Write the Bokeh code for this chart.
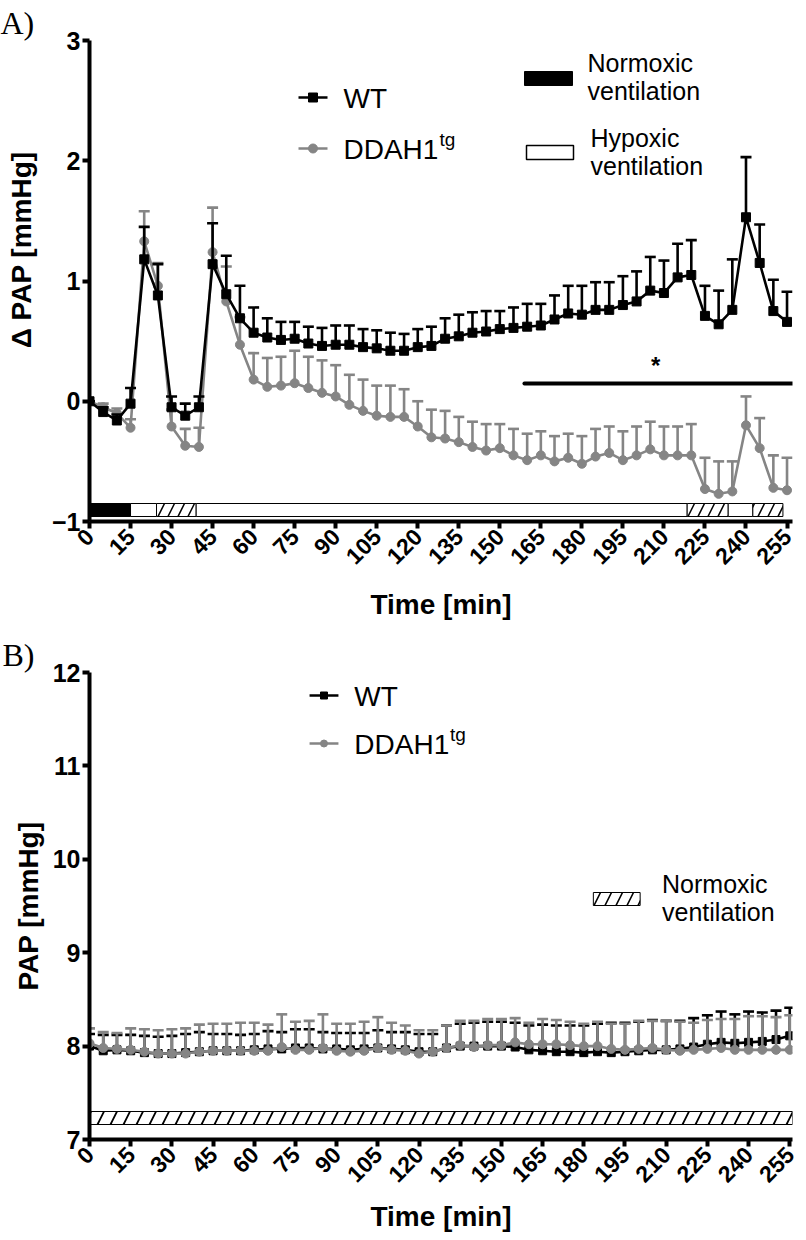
import math
from bokeh.plotting import figure
from bokeh.models import Range1d, Label, FixedTicker
from bokeh.layouts import column
from bokeh.embed import file_html
from bokeh.resources import INLINE

# ---------------- data ----------------
time_min = list(range(0, 256, 5))
x_ticks = list(range(0, 256, 15))

# Panel A: change in PAP [mmHg] (mean and top of upper error bar)
wt_a = [0.00, -0.09, -0.16, -0.02, 1.18, 0.88, -0.05, -0.12, -0.05, 1.14,
        0.89, 0.69, 0.57, 0.53, 0.51, 0.52, 0.48, 0.46, 0.47, 0.47,
        0.45, 0.44, 0.42, 0.42, 0.45, 0.46, 0.52, 0.54, 0.57, 0.58,
        0.60, 0.61, 0.62, 0.63, 0.68, 0.73, 0.72, 0.76, 0.76, 0.80,
        0.83, 0.92, 0.90, 1.03, 1.05, 0.71, 0.64, 0.76, 1.53, 1.15,
        0.75, 0.66]
wt_a_upper = [0.00, -0.05, -0.11, 0.11, 1.45, 1.14, 0.04, -0.02, 0.04, 1.48,
              1.21, 0.96, 0.78, 0.69, 0.66, 0.66, 0.62, 0.61, 0.63, 0.63,
              0.60, 0.59, 0.57, 0.56, 0.60, 0.62, 0.69, 0.72, 0.74, 0.75,
              0.75, 0.78, 0.81, 0.81, 0.88, 0.96, 0.96, 0.99, 0.99, 1.04,
              1.08, 1.20, 1.17, 1.31, 1.34, 0.96, 0.92, 1.18, 2.03, 1.47,
              1.01, 0.91]
ddah_a = [0.00, -0.05, -0.10, -0.22, 1.33, 0.96, -0.21, -0.37, -0.38, 1.24,
          0.83, 0.47, 0.18, 0.12, 0.13, 0.15, 0.11, 0.07, 0.04, -0.03,
          -0.08, -0.12, -0.13, -0.13, -0.21, -0.30, -0.31, -0.34, -0.38, -0.41,
          -0.39, -0.45, -0.49, -0.45, -0.50, -0.47, -0.52, -0.46, -0.43, -0.49,
          -0.45, -0.40, -0.45, -0.45, -0.45, -0.73, -0.77, -0.75, -0.20, -0.39,
          -0.72, -0.74]
ddah_a_upper = [0.00, -0.02, -0.06, -0.15, 1.58, 1.15, -0.07, -0.23, -0.22, 1.61,
                1.12, 0.70, 0.40, 0.36, 0.37, 0.42, 0.37, 0.34, 0.30, 0.22,
                0.18, 0.13, 0.13, 0.10, 0.00, -0.07, -0.08, -0.13, -0.17, -0.19,
                -0.19, -0.23, -0.27, -0.25, -0.29, -0.27, -0.29, -0.23, -0.21, -0.25,
                -0.21, -0.17, -0.21, -0.21, -0.19, -0.47, -0.50, -0.50, 0.04, -0.14,
                -0.45, -0.47]

# ventilation protocol of panel A (start, end in min)
vent_a_start = [0, 15, 24.5, 39, 218.5, 233.5, 242.5]
vent_a_end = [15, 24.5, 39, 218.5, 233.5, 242.5, 253.5]
vent_a_kind = ["normoxic", "hypoxic", "hatched", "hypoxic", "hatched", "hypoxic", "hatched"]

# significance range of panel A (min)
sig_start, sig_end = 159, 257

# Panel B: absolute PAP [mmHg]
wt_b = [8.00, 7.95, 7.96, 7.95, 7.93, 7.92, 7.92, 7.93, 7.94, 7.95,
        7.95, 7.95, 7.96, 7.97, 7.97, 7.98, 7.98, 7.97, 7.97, 7.96,
        7.97, 7.98, 7.97, 7.96, 7.94, 7.94, 7.98, 8.00, 8.00, 8.00,
        8.00, 7.99, 7.96, 7.95, 7.94, 7.94, 7.93, 7.94, 7.93, 7.94,
        7.95, 7.96, 7.96, 7.97, 7.99, 8.02, 8.04, 8.03, 8.04, 8.05,
        8.07, 8.11]
wt_b_upper = [8.13, 8.12, 8.12, 8.12, 8.11, 8.10, 8.11, 8.13, 8.15, 8.13,
              8.13, 8.12, 8.13, 8.16, 8.15, 8.18, 8.18, 8.15, 8.14, 8.14,
              8.14, 8.17, 8.15, 8.15, 8.13, 8.13, 8.22, 8.24, 8.25, 8.26,
              8.26, 8.25, 8.22, 8.23, 8.22, 8.22, 8.22, 8.24, 8.25, 8.25,
              8.26, 8.28, 8.27, 8.27, 8.30, 8.33, 8.37, 8.34, 8.37, 8.36,
              8.38, 8.41]
ddah_b = [8.03, 7.98, 7.97, 7.96, 7.94, 7.92, 7.92, 7.92, 7.94, 7.95,
          7.95, 7.95, 7.95, 7.95, 7.99, 7.96, 7.96, 7.98, 7.95, 7.94,
          7.95, 7.98, 7.96, 7.95, 7.92, 7.94, 7.98, 8.01, 7.99, 8.01,
          8.01, 8.04, 8.02, 8.02, 8.02, 8.01, 8.00, 8.00, 7.97, 7.96,
          7.97, 7.98, 7.96, 7.95, 7.96, 7.97, 7.98, 7.96, 7.96, 7.96,
          7.96, 7.96]
ddah_b_upper = [8.19, 8.15, 8.14, 8.19, 8.18, 8.17, 8.18, 8.19, 8.23, 8.24,
                8.24, 8.25, 8.25, 8.23, 8.34, 8.26, 8.27, 8.34, 8.24, 8.24,
                8.26, 8.31, 8.25, 8.22, 8.17, 8.17, 8.22, 8.27, 8.27, 8.29,
                8.29, 8.30, 8.25, 8.29, 8.28, 8.26, 8.24, 8.26, 8.24, 8.24,
                8.27, 8.27, 8.27, 8.26, 8.25, 8.28, 8.29, 8.29, 8.32, 8.32,
                8.31, 8.33]

# ---------------- style ----------------
SANS = "Liberation Sans"
SERIF = "Liberation Serif"
BLACK = "#000000"
GREY = "#858585"
NB = "\u00a0"


def style_axes(p, yticks, ylabel, label_standoff_x, label_standoff_y, panel, offset):
    p.grid.visible = False
    p.outline_line_color = None
    p.background_fill_color = "white"
    p.border_fill_color = "white"
    p.title.text = panel
    p.title.text_font = SERIF
    p.title.text_font_size = "32px"
    p.title.text_font_style = "normal"
    p.title.text_color = BLACK
    p.title.align = "left"
    p.title.offset = offset
    p.title.standoff = 0
    for ax in (p.xaxis[0], p.yaxis[0]):
        ax.axis_line_width = 4
        ax.axis_line_color = BLACK
        ax.major_tick_line_width = 4
        ax.major_tick_line_color = BLACK
        ax.major_tick_out = 7
        ax.major_tick_in = 0
        ax.minor_tick_line_color = None
        ax.major_label_text_font = SANS
        ax.major_label_text_font_style = "bold"
        ax.major_label_text_color = BLACK
        ax.axis_label_text_font = SANS
        ax.axis_label_text_font_style = "bold"
        ax.axis_label_text_color = BLACK
        ax.axis_label_text_font_size = "28px"
    p.xaxis.ticker = FixedTicker(ticks=x_ticks)
    p.xaxis.major_label_orientation = math.pi / 4
    p.xaxis.major_label_text_font_size = "23px"
    p.xaxis.major_label_standoff = 4
    p.xaxis.axis_label = "Time [min]"
    p.xaxis.axis_label_standoff = label_standoff_x
    p.yaxis.ticker = FixedTicker(ticks=yticks)
    p.yaxis.major_label_text_font_size = "25px"
    p.yaxis.major_label_standoff = 2
    p.yaxis.axis_label = ylabel
    p.yaxis.axis_label_standoff = label_standoff_y


def series(p, t, mean, upper, color, marker, size):
    p.segment(x0=t, y0=mean, x1=t, y1=upper, line_color=color, line_width=2.6)
    p.scatter(x=t, y=upper, marker="dash", size=11, line_color=color, line_width=2.6)
    p.line(x=t, y=mean, line_color=color, line_width=2.6)
    p.scatter(x=t, y=mean, marker=marker, size=size, fill_color=color, line_color=color)


def label(p, x, y, text, size, color=BLACK, font=SANS, style="normal", align="left"):
    p.add_layout(Label(x=x, y=y, text=text, text_font=font, text_font_size=size,
                       text_font_style=style, text_color=color, text_align=align,
                       text_baseline="middle"))


# ---------------- panel A ----------------
XA0, XA1 = 0, 257
pa = figure(width=800, height=628, x_range=Range1d(XA0, XA1), y_range=Range1d(-1, 3),
            output_backend="svg", toolbar_location=None,
            min_border_left=89, min_border_right=8, min_border_top=40, min_border_bottom=107)
style_axes(pa, [-1, 0, 1, 2, 3], NB * 8 + "\u0394 PAP [mmHg]", 14, 12, "A)", -89)

SXA = 703 / (XA1 - XA0)
def ax(px):
    return (px - 89) / SXA
def ay(py):
    return -1 + (521 - py) / 120.25

series(pa, time_min, ddah_a, ddah_a_upper, GREY, "circle", 9)
series(pa, time_min, wt_a, wt_a_upper, BLACK, "square", 9)

# ventilation bar
bar_lo, bar_hi = ay(516), ay(503)
for s, e, k in zip(vent_a_start, vent_a_end, vent_a_kind):
    if k == "normoxic":
        pa.quad(left=s, right=e, bottom=bar_lo, top=bar_hi, fill_color=BLACK,
                line_color=BLACK, line_width=1)
    elif k == "hypoxic":
        pa.quad(left=s, right=e, bottom=bar_lo, top=bar_hi, fill_color="white",
                line_color=BLACK, line_width=1)
    else:
        pa.quad(left=s, right=e, bottom=bar_lo, top=bar_hi, fill_color="white",
                hatch_pattern="/", hatch_color=BLACK, hatch_scale=20, hatch_weight=1.5,
                line_color=BLACK, line_width=1)

# significance bar
pa.segment(x0=[sig_start], y0=[ay(383)], x1=[sig_end], y1=[ay(383)], line_color=BLACK,
           line_width=4, line_cap="round")
label(pa, (sig_start + sig_end) / 2 - 1, ay(365), "*", "24px", style="bold", align="center")

# legend A
pa.line(x=[ax(298), ax(327)], y=[ay(97), ay(97)], line_color=BLACK, line_width=2.6)
pa.scatter(x=[ax(312.5)], y=[ay(97)], marker="square", size=9, fill_color=BLACK, line_color=BLACK)
label(pa, ax(343), ay(98), "WT", "28px")
pa.line(x=[ax(298), ax(327)], y=[ay(148), ay(148)], line_color=GREY, line_width=2.6)
pa.scatter(x=[ax(312.5)], y=[ay(148)], marker="circle", size=9, fill_color=GREY, line_color=GREY)
label(pa, ax(343), ay(149), "DDAH1", "28px")
label(pa, ax(439), ay(139), "tg", "19px")

pa.quad(left=[ax(524)], right=[ax(572)], bottom=[ay(85)], top=[ay(71)], fill_color=BLACK,
        line_color=BLACK)
label(pa, ax(587), ay(62), "Normoxic", "25px")
label(pa, ax(587), ay(90), "ventilation", "25px")
pa.quad(left=[ax(526)], right=[ax(573)], bottom=[ay(159)], top=[ay(145)], fill_color="white",
        line_color=BLACK, line_width=1.5)
label(pa, ax(590), ay(137), "Hypoxic", "25px")
label(pa, ax(590), ay(165), "ventilation", "25px")

# ---------------- panel B ----------------
XB0, XB1 = 0, 256
B_TOP = 628  # page y where panel B starts
pb = figure(width=800, height=610, x_range=Range1d(XB0, XB1), y_range=Range1d(7, 12),
            output_backend="svg", toolbar_location=None,
            min_border_left=87, min_border_right=7, min_border_top=672 - B_TOP,
            min_border_bottom=610 - (1139 - B_TOP))
style_axes(pb, [7, 8, 9, 10, 11, 12], "PAP [mmHg]", 8, 6, "B)", -87)

SXB = 706 / (XB1 - XB0)
def bx(px):
    return (px - 87) / SXB
def by(py):
    return 7 + (1139 - py) / 93.4

series(pb, time_min, wt_b, wt_b_upper, BLACK, "square", 8)
series(pb, time_min, ddah_b, ddah_b_upper, GREY, "circle", 9)

# ventilation bar B (normoxic throughout)
pb.quad(left=[XB0], right=[XB1], bottom=[by(1124)], top=[by(1111)], fill_color="white",
        hatch_pattern="/", hatch_color=BLACK, hatch_scale=26, hatch_weight=1.8,
        line_color=BLACK, line_width=1)

# legend B
pb.line(x=[bx(308), bx(337)], y=[by(695), by(695)], line_color=BLACK, line_width=2.6)
pb.scatter(x=[bx(322.5)], y=[by(695)], marker="square", size=7, fill_color=BLACK, line_color=BLACK)
label(pb, bx(353), by(696), "WT", "28px")
pb.line(x=[bx(308), bx(337)], y=[by(743), by(743)], line_color=GREY, line_width=2.6)
pb.scatter(x=[bx(322.5)], y=[by(743)], marker="circle", size=7, fill_color=GREY, line_color=GREY)
label(pb, bx(353), by(744), "DDAH1", "28px")
label(pb, bx(449), by(734), "tg", "19px")

pb.quad(left=[bx(593)], right=[bx(640)], bottom=[by(905)], top=[by(892)], fill_color="white",
        hatch_pattern="/", hatch_color=BLACK, hatch_scale=22, hatch_weight=1.6,
        line_color=BLACK, line_width=1)
label(pb, bx(662), by(883), "Normoxic", "25px")
label(pb, bx(662), by(911), "ventilation", "25px")

layout = column(pa, pb, spacing=0)
open("out.html", "w").write(file_html(layout, INLINE))
